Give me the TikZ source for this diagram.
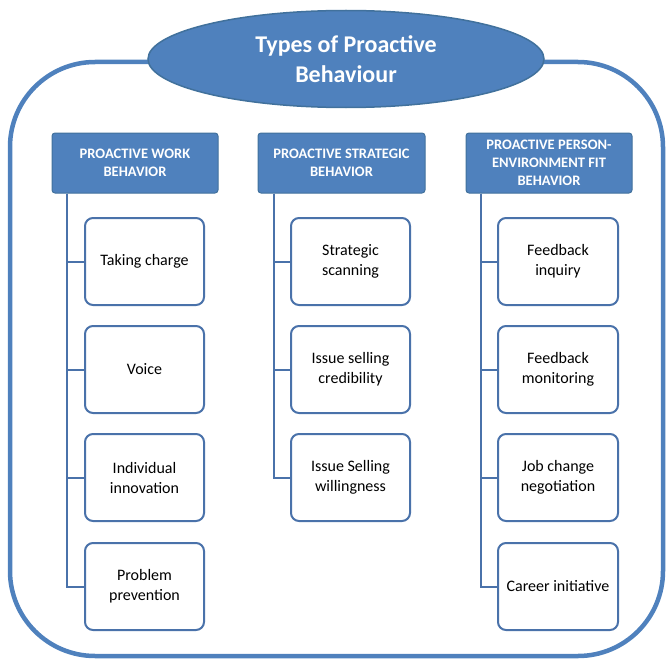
\documentclass[tikz,border=0pt]{standalone}
\usepackage{fontspec}
\setmainfont{Carlito}
\usetikzlibrary{shapes.geometric}
\definecolor{hdrblue}{HTML}{4F81BD}
\definecolor{hdredge}{HTML}{41719C}
\definecolor{lineblue}{HTML}{4A72AA}
\tikzset{
  hdrbox/.style={draw=hdredge, line width=1pt, fill=hdrblue, rounded corners=3pt,
    minimum width=166pt, minimum height=60pt, text=white, align=center,
    font=\fontsize{14.5}{18}\selectfont\bfseries, inner sep=1pt},
  itembox/.style={draw=lineblue, line width=2pt, fill=white, rounded corners=8pt,
    minimum width=119pt, minimum height=87pt, align=center,
    font=\fontsize{16}{20}\selectfont, inner sep=2pt},
  conn/.style={draw=lineblue, line width=2pt},
}
\begin{document}
\begin{tikzpicture}[x=1pt,y=-1pt]
\useasboundingbox (0,0) rectangle (667,661);
% outer frame
\draw[draw=hdrblue, line width=4.5pt, rounded corners=85pt] (10,62) rectangle (663,656);
% title ellipse
\node[ellipse, draw=hdredge, line width=1.5pt, fill=hdrblue, minimum width=396pt, minimum height=97pt,
  text=white, align=center, font=\fontsize{24}{30}\selectfont\bfseries, inner sep=0pt] (title) at (346,59)
  {Types of Proactive\\Behaviour};
% headers
\node[hdrbox] (h1) at (135,163) {PROACTIVE WORK\\BEHAVIOR};
\node[hdrbox, minimum width=167pt] (h2) at (341.5,163) {PROACTIVE STRATEGIC\\BEHAVIOR};
\node[hdrbox] (h3) at (549,163) {PROACTIVE PERSON-\\ENVIRONMENT FIT\\BEHAVIOR};
% vertical line anchors
\coordinate (v1) at (67,0);
\coordinate (v2) at (274,0);
\coordinate (v3) at (481,0);
% items column 1
\node[itembox] (a1) at (144.5,261.5) {Taking charge};
\node[itembox] (a2) at (144.5,369.5) {Voice};
\node[itembox] (a3) at (144.5,477.5) {Individual\\innovation};
\node[itembox] (a4) at (144.5,586.5) {Problem\\prevention};
% items column 2
\node[itembox] (b1) at (350.5,261.5) {Strategic\\scanning};
\node[itembox] (b2) at (350.5,369.5) {Issue selling\\credibility};
\node[itembox] (b3) at (350.5,477.5) {Issue Selling\\willingness};
% items column 3
\node[itembox, minimum width=120pt] (c1) at (558,261.5) {Feedback\\inquiry};
\node[itembox, minimum width=120pt] (c2) at (558,369.5) {Feedback\\monitoring};
\node[itembox, minimum width=120pt] (c3) at (558,477.5) {Job change\\negotiation};
\node[itembox, minimum width=120pt] (c4) at (558,586.5) {Career initiative};
% connectors
\foreach \b in {a1,a2,a3,a4} \draw[conn] (v1 |- h1.south) |- (\b.west);
\foreach \b in {b1,b2,b3} \draw[conn] (v2 |- h2.south) |- (\b.west);
\foreach \b in {c1,c2,c3,c4} \draw[conn] (v3 |- h3.south) |- (\b.west);
\end{tikzpicture}
\end{document}
